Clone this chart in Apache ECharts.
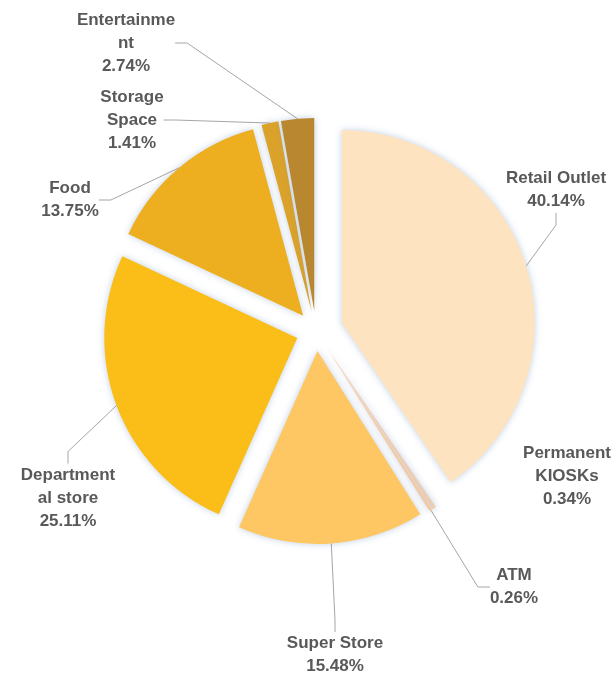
<!DOCTYPE html>
<html>
<head>
<meta charset="utf-8">
<script src="https://cdn.jsdelivr.net/npm/echarts@6/dist/echarts.min.js"></script>
<style>
  html, body { margin: 0; padding: 0; background: #ffffff; }
  #chart { width: 612px; height: 676px; }
</style>
</head>
<body>
<div id="chart"></div>
<script>
// Share of space by type of use (percent), clockwise from 12 o'clock
const categories = ['Retail Outlet', 'Permanent\nKIOSKs', 'ATM', 'Super Store', 'Department\nal store', 'Food', 'Storage\nSpace', 'Entertainme\nnt'];
const shares = [40.14, 0.34, 0.26, 15.48, 25.11, 13.75, 1.41, 2.74];
const sliceColors = ['#FEE3C1', '#F6D3B5', '#F2C9A6', '#FEC764', '#FBBD18', '#EDAF20', '#DBA22A', '#B8872F'];

// How far each slice is pulled out from the centre (px)
const explode = [27, 20, 20, 20, 20, 20, 20, 20];
// Where each label block is centred, and which slices have no leader line
const labelSpots = [[556, 190], [567, 476], [514, 587], [335, 655], [68, 498], [70, 200], [132, 120], [126, 43]];
const noLeader = [false, true, false, false, false, false, false, false];

const baseCenter = [316, 331];
const pieRadius = 193;

const chart = echarts.init(document.getElementById('chart'), null, { renderer: 'canvas' });

const total = shares.reduce((a, b) => a + b, 0);
const clear = 'rgba(0,0,0,0)';

// One pie layer per slice: every layer lays out the full data set so the
// angles come from the shares, but only its own slice is painted, shifted
// outward along that slice's bisector.
let before = 0;
const layers = categories.map((name, k) => {
  const mid = ((before + shares[k] / 2) / total) * 2 * Math.PI;
  before += shares[k];
  const cx = baseCenter[0] + Math.sin(mid) * explode[k];
  const cy = baseCenter[1] - Math.cos(mid) * explode[k];
  return {
    type: 'pie',
    center: [cx, cy],
    radius: pieRadius,
    startAngle: 90,
    clockwise: true,
    avoidLabelOverlap: false,
    silent: true,
    emphasis: { disabled: true },
    label: {
      show: true,
      position: 'outside',
      formatter: p => p.name + '\n' + p.value.toFixed(2) + '%',
      color: '#595959',
      fontFamily: 'Liberation Sans',
      fontWeight: 'bold',
      fontSize: 17,
      lineHeight: 23,
      align: 'center'
    },
    labelLine: {
      show: true,
      length: 10,
      length2: 12,
      smooth: false,
      lineStyle: { color: '#A6A6A6', width: 1 }
    },
    labelLayout: params => {
      const p = labelSpots[params.dataIndex];
      return { x: p[0], y: p[1], align: 'center', verticalAlign: 'middle' };
    },
    data: categories.map((n, i) => {
      const own = i === k;
      return {
        name: n,
        value: shares[i],
        itemStyle: own
          ? { color: sliceColors[i], shadowBlur: 7, shadowColor: 'rgba(120,150,190,0.45)' }
          : { color: clear, shadowBlur: 0 },
        label: { show: own },
        labelLine: { show: own && !noLeader[i] }
      };
    })
  };
});

chart.setOption({
  animation: false,
  backgroundColor: '#ffffff',
  series: layers
});
</script>
</body>
</html>
